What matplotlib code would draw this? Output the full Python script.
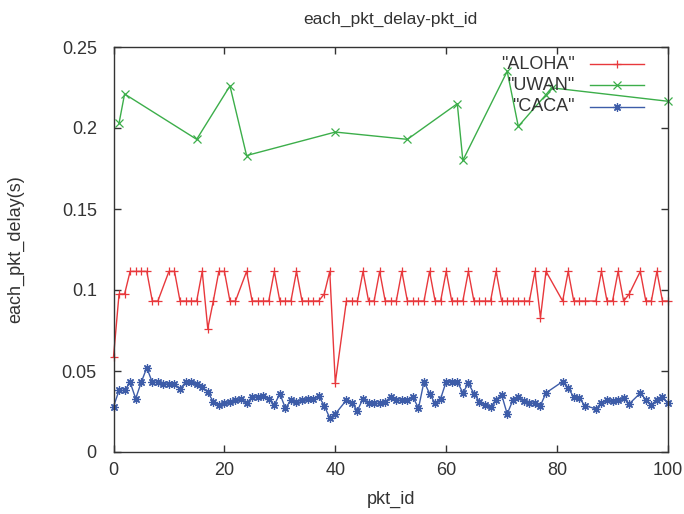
import matplotlib.pyplot as plt

plt.rcParams['font.family'] = ['Liberation Sans', 'DejaVu Sans']

# ALOHA (red, +)
aloha_x = [0, 1, 2, 3, 4, 5, 6, 7, 8, 10, 11, 12, 13, 14, 15, 16, 17, 18, 19, 20,
           21, 22, 24, 25, 26, 27, 28, 29, 30, 31, 32, 33, 34, 35, 36, 37, 38, 39, 40,
           42, 43, 44, 45, 46, 47, 48, 49, 50, 51, 52, 53, 54, 55, 56, 57, 58, 59, 60,
           61, 62, 63, 64, 65, 66, 67, 68, 69, 70, 71, 72, 73, 74, 75, 76, 77, 78,
           81, 82, 83, 84, 85, 87, 88, 89, 90, 91, 92, 93, 95, 96, 97, 98, 99, 100]
aloha_y = [0.0586, 0.0975, 0.0975, 0.1115, 0.1115, 0.1115, 0.1115, 0.0932, 0.0932,
           0.1115, 0.1115, 0.0932, 0.0932, 0.0932, 0.0932, 0.1115, 0.0762, 0.0932,
           0.1115, 0.1115, 0.0932, 0.0932, 0.1115, 0.0932, 0.0932, 0.0932, 0.0932,
           0.1115, 0.0932, 0.0932, 0.0932, 0.1115, 0.0932, 0.0932, 0.0932, 0.0932,
           0.0975, 0.1115, 0.0427,
           0.0932, 0.0932, 0.0932, 0.1115, 0.0932, 0.0932, 0.1115, 0.0932, 0.0932,
           0.0932, 0.1115, 0.0932, 0.0932, 0.0932, 0.0932, 0.1115, 0.0932, 0.0932,
           0.1115, 0.0932, 0.0932, 0.0932, 0.1115, 0.0932, 0.0932, 0.0932, 0.0932,
           0.1115, 0.0932, 0.0932, 0.0932, 0.0932, 0.0932, 0.0932, 0.1115, 0.0830,
           0.1115, 0.0932, 0.1115, 0.0932, 0.0932, 0.0932, 0.0932, 0.1115, 0.0932,
           0.0932, 0.1115, 0.0932, 0.0975, 0.1115, 0.0932, 0.0932, 0.1115, 0.0932,
           0.0932]

# UWAN (green, x)
uwan_x = [1, 2, 15, 21, 24, 40, 53, 62, 63, 71, 73, 78, 79, 100]
uwan_y = [0.203, 0.221, 0.193, 0.226, 0.183, 0.1975, 0.193, 0.215, 0.180,
          0.235, 0.201, 0.2206, 0.2248, 0.2165]

# CACA (blue, *)
caca_x = list(range(0, 41)) + list(range(42, 79)) + [81, 82, 83, 84, 85, 87, 88, 89,
                                                     90, 91, 92, 93, 95, 96, 97, 98,
                                                     99, 100]
caca_y = [0.028, 0.038, 0.038, 0.043, 0.033, 0.043, 0.052, 0.043, 0.043, 0.042,
          0.042, 0.042, 0.039, 0.043, 0.043, 0.042, 0.040, 0.037, 0.031, 0.029,
          0.030, 0.031, 0.032, 0.033, 0.030, 0.034, 0.034, 0.0345, 0.033, 0.029,
          0.036, 0.027, 0.032, 0.031, 0.032, 0.033, 0.033, 0.0345, 0.0287, 0.021,
          0.0235,
          0.032, 0.030, 0.0256, 0.033, 0.030, 0.030, 0.030, 0.031, 0.034, 0.032,
          0.032, 0.032, 0.034, 0.027, 0.0435, 0.036, 0.030, 0.033, 0.0435, 0.0435,
          0.0435, 0.0365, 0.0425, 0.036, 0.031, 0.029, 0.0277, 0.0324, 0.0353,
          0.0235, 0.0318, 0.0339, 0.0314, 0.0303, 0.0301, 0.0287, 0.0365,
          0.0435, 0.0396, 0.0339, 0.0332, 0.0287, 0.0266, 0.0303, 0.0322, 0.0314,
          0.0318, 0.0332, 0.0297, 0.0363, 0.0324, 0.029, 0.0324, 0.0339, 0.0301]

x_ticks = [0, 20, 40, 60, 80, 100]
y_ticks = [0, 0.05, 0.1, 0.15, 0.2, 0.25]
y_labels = ['0', '0.05', '0.1', '0.15', '0.2', '0.25']

series = [
    ('"ALOHA"', aloha_x, aloha_y, '#e8383c', '+'),
    ('"UWAN"', uwan_x, uwan_y, '#3cae4a', 'x'),
    ('"CACA"', caca_x, caca_y, '#3d5ca8', (8, 2, 0)),
]

txt = '#333333'

fig = plt.figure(figsize=(6.84, 5.14), dpi=100)
ax = fig.add_axes([113.5 / 684, 62 / 514, 554.5 / 684, 405 / 514])

for name, xs, ys, col, mk in series:
    ax.plot(xs, ys, color=col, lw=1.0, marker=mk, ms=6, mew=0.9, clip_on=False)

ax.set_xlim(0, 100)
ax.set_ylim(0, 0.25)
ax.set_xticks(x_ticks)
ax.set_yticks(y_ticks)
ax.set_yticklabels(y_labels)
ax.tick_params(direction='in', top=True, right=True, length=5, width=1,
               labelsize=13, colors=txt)
ax.tick_params(axis='y', pad=12)
ax.tick_params(axis='x', pad=7)
for sp in ax.spines.values():
    sp.set_color('#333333')
    sp.set_linewidth(1.0)

ax.set_title('each_pkt_delay-pkt_id', fontsize=12.5, color=txt, pad=17)
ax.set_xlabel('pkt_id', fontsize=13, color=txt, labelpad=9)
ax.set_ylabel('each_pkt_delay(s)', fontsize=13, color=txt, labelpad=27)

# gnuplot style key: text right aligned, then line sample
key_rows = [0.958, 0.906, 0.852]
for (name, xs, ys, col, mk), ky in zip(series, key_rows):
    ax.text(0.832, ky, name, transform=ax.transAxes, ha='right', va='center',
            fontsize=13, color=txt)
    ax.plot([0.859, 0.957], [ky, ky], transform=ax.transAxes, color=col,
            lw=1.0, clip_on=False)
    ax.plot([0.908], [ky], transform=ax.transAxes, color=col, marker=mk,
            ms=6, mew=0.9, clip_on=False)

fig.savefig('out.png', dpi=100)
